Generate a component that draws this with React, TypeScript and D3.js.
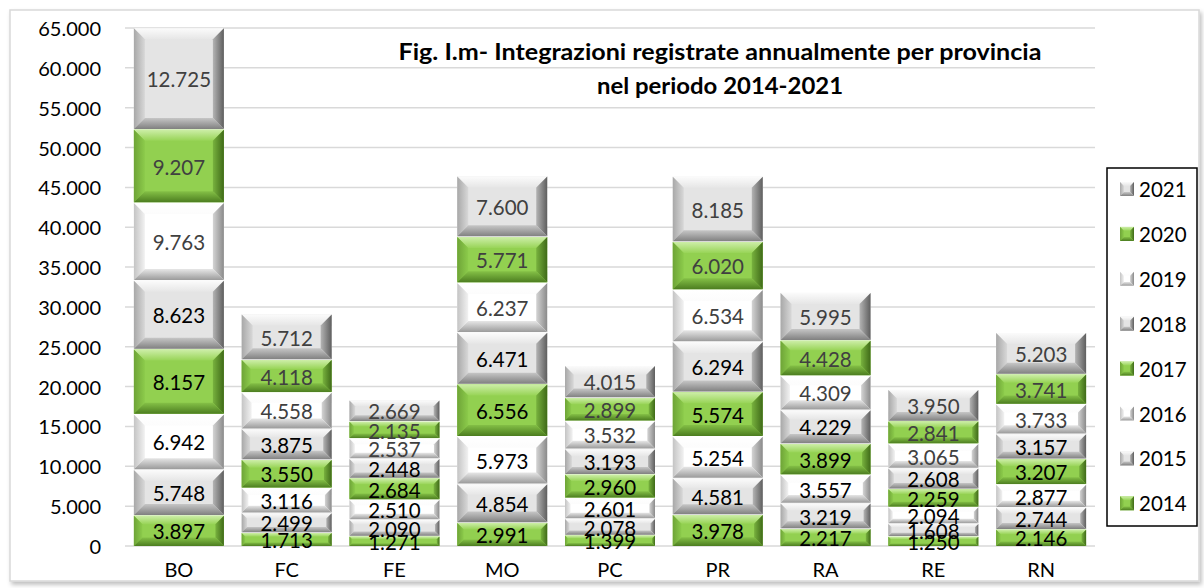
import React from "react";
import * as d3 from "d3";

const categories = ["BO", "FC", "FE", "MO", "PC", "PR", "RA", "RE", "RN"];
const years = ["2014", "2015", "2016", "2017", "2018", "2019", "2020", "2021"];
const v2014 = [3897, 1713, 1271, 2991, 1399, 3978, 2217, 1250, 2146];
const v2015 = [5748, 2499, 2090, 4854, 2078, 4581, 3219, 1608, 2744];
const v2016 = [6942, 3116, 2510, 5973, 2601, 5254, 3557, 2094, 2877];
const v2017 = [8157, 3550, 2684, 6556, 2960, 5574, 3899, 2259, 3207];
const v2018 = [8623, 3875, 2448, 6471, 3193, 6294, 4229, 2608, 3157];
const v2019 = [9763, 4558, 2537, 6237, 3532, 6534, 4309, 3065, 3733];
const v2020 = [9207, 4118, 2135, 5771, 2899, 6020, 4428, 2841, 3741];
const v2021 = [12725, 5712, 2669, 7600, 4015, 8185, 5995, 3950, 5203];
const seriesValues = [v2014, v2015, v2016, v2017, v2018, v2019, v2020, v2021];
const seriesKind = ["green", "grey", "white", "green", "grey", "white", "green", "grey"];
const labelColor = ["#000", "#000", "#000", "#000", "#000", "#404040", "#404040", "#404040"];
const yTicks = d3.range(0, 65001, 5000);
const titleLines = [
  "Fig. I.m- Integrazioni registrate annualmente per provincia",
  "nel periodo 2014-2021",
];
const titleWidths = [643, 246];

const palettes: Record<string, any> = {
  green: {
    face: "#92d050",
    top: ["#cdeea8", "#98d457"],
    left: ["#6ea437", "#8ccb4b"],
    right: ["#78b23e", "#3f6a18"],
    bottom: ["#84c046", "#4c7d20"],
  },
  grey: {
    face: "#e4e4e4",
    top: ["#fbfbfb", "#e6e6e6"],
    left: ["#a8a8a8", "#d8d8d8"],
    right: ["#b4b4b4", "#5e5e5e"],
    bottom: ["#c6c6c6", "#808080"],
  },
  white: {
    face: "#ffffff",
    top: ["#ffffff", "#fcfcfc"],
    left: ["#c4c4c4", "#f2f2f2"],
    right: ["#d4d4d4", "#8a8a8a"],
    bottom: ["#e6e6e6", "#9a9a9a"],
  },
};

const locale = d3.formatLocale({ thousands: ".", decimal: ",", grouping: [3], currency: ["", "€"] });
const fmt = locale.format(",");

const FONT = "Lato, 'Open Sans', sans-serif";

function Bevel({ x0, x1, y0, y1, kind, maxB }: any) {
  const w = x1 - x0;
  const h = y1 - y0;
  const b = Math.max(0.5, Math.min(maxB, h * 0.28, w / 2));
  const id = kind;
  return (
    <g>
      <rect x={x0} y={y0} width={w} height={h} fill={palettes[kind].face} />
      <polygon
        points={`${x0},${y0} ${x1},${y0} ${x1 - b},${y0 + b} ${x0 + b},${y0 + b}`}
        fill={`url(#${id}-top)`}
      />
      <polygon
        points={`${x0},${y0} ${x0 + b},${y0 + b} ${x0 + b},${y1 - b} ${x0},${y1}`}
        fill={`url(#${id}-left)`}
      />
      <polygon
        points={`${x1},${y0} ${x1},${y1} ${x1 - b},${y1 - b} ${x1 - b},${y0 + b}`}
        fill={`url(#${id}-right)`}
      />
      <polygon
        points={`${x0},${y1} ${x0 + b},${y1 - b} ${x1 - b},${y1 - b} ${x1},${y1}`}
        fill={`url(#${id}-bottom)`}
      />
    </g>
  );
}

export default function App() {
  const W = 1204;
  const H = 588;
  const x = d3.scaleBand().domain(categories).range([125, 1095]).paddingInner(0.165).paddingOuter(0.0825);
  const y = d3.scaleLinear().domain([0, 65000]).range([546, 28]);

  const stacked = d3.stack<any>().keys(years)(
    categories.map((c, i) => {
      const o: any = { cat: c };
      years.forEach((yr, k) => (o[yr] = seriesValues[k][i]));
      return o;
    })
  );

  const gradDefs: any[] = [];
  Object.keys(palettes).forEach((k) => {
    const p = palettes[k];
    gradDefs.push(
      <linearGradient key={k + "t"} id={`${k}-top`} x1="0" y1="0" x2="0" y2="1">
        <stop offset="0" stopColor={p.top[0]} />
        <stop offset="1" stopColor={p.top[1]} />
      </linearGradient>,
      <linearGradient key={k + "l"} id={`${k}-left`} x1="0" y1="0" x2="1" y2="0">
        <stop offset="0" stopColor={p.left[0]} />
        <stop offset="1" stopColor={p.left[1]} />
      </linearGradient>,
      <linearGradient key={k + "r"} id={`${k}-right`} x1="0" y1="0" x2="1" y2="0">
        <stop offset="0" stopColor={p.right[0]} />
        <stop offset="1" stopColor={p.right[1]} />
      </linearGradient>,
      <linearGradient key={k + "b"} id={`${k}-bottom`} x1="0" y1="0" x2="0" y2="1">
        <stop offset="0" stopColor={p.bottom[0]} />
        <stop offset="1" stopColor={p.bottom[1]} />
      </linearGradient>
    );
  });

  const legendTop = 189;
  const legendStep = 44.9;
  const legendYears = years.slice().reverse();

  return (
    <svg
      width={W}
      height={H}
      style={{ position: "absolute", left: 0, top: 0, background: "#fff" }}
      fontFamily={FONT}
    >
      <defs>
        {gradDefs}
        <filter id="shadow" x="-2%" y="-2%" width="104%" height="106%">
          <feDropShadow dx="2" dy="3" stdDeviation="2" floodColor="#000" floodOpacity="0.25" />
        </filter>
      </defs>
      <rect x={10} y={10} width={1189} height={571} fill="#fff" stroke="#d9d9d9" strokeWidth={1.5} filter="url(#shadow)" />

      {/* gridlines */}
      {yTicks.map((t) => (
        <line key={"g" + t} x1={125} x2={1095} y1={y(t)} y2={y(t)} stroke="#d9d9d9" strokeWidth={1.5} />
      ))}
      {/* y tick labels */}
      {yTicks.map((t) => (
        <text key={"yl" + t} x={101} y={y(t)} textAnchor="end" dominantBaseline="central" fontSize={20} fill="#000">
          {fmt(t)}
        </text>
      ))}
      {/* category labels */}
      {categories.map((c) => (
        <text key={"c" + c} x={(x(c) as number) + x.bandwidth() / 2} y={569} textAnchor="middle" dominantBaseline="central" fontSize={20} fill="#000">
          {c}
        </text>
      ))}

      {/* title */}
      {titleLines.map((t, i) => (
        <text
          key={"t" + i}
          x={720}
          y={51 + i * 34}
          textAnchor="middle"
          dominantBaseline="central"
          fontSize={22}
          fontWeight="bold"
          fill="#000"
          textLength={titleWidths[i]}
          lengthAdjust="spacingAndGlyphs"
        >
          {t}
        </text>
      ))}

      {/* bars */}
      {stacked.map((s, k) =>
        s.map((d: any, i: number) => {
          const c = categories[i];
          const x0 = x(c) as number;
          const x1 = x0 + x.bandwidth();
          const yTop = y(d[1]) + 0.75;
          const yBot = y(d[0]);
          return (
            <Bevel key={`b${k}-${i}`} x0={x0} x1={x1} y0={yTop} y1={yBot} kind={seriesKind[k]} maxB={11} />
          );
        })
      )}
      {/* labels */}
      {stacked.map((s, k) =>
        s.map((d: any, i: number) => {
          const c = categories[i];
          const cx = (x(c) as number) + x.bandwidth() / 2;
          const cy = (y(d[1]) + y(d[0])) / 2 + 1;
          return (
            <text key={`l${k}-${i}`} x={cx} y={cy} textAnchor="middle" dominantBaseline="central" fontSize={20.5} fill={labelColor[k]}>
              {fmt(seriesValues[k][i])}
            </text>
          );
        })
      )}

      {/* legend */}
      <rect x={1107} y={168} width={90} height={358} fill="#fff" stroke="#000" strokeWidth={1.5} />
      {legendYears.map((yr, j) => {
        const k = years.indexOf(yr);
        const cy = legendTop + j * legendStep;
        return (
          <g key={"lg" + yr}>
            <Bevel x0={1120} x1={1134} y0={cy - 7} y1={cy + 7} kind={seriesKind[k]} maxB={4} />
            <text x={1139} y={cy} dominantBaseline="central" fontSize={20.5} fill="#000">
              {yr}
            </text>
          </g>
        );
      })}
    </svg>
  );
}
